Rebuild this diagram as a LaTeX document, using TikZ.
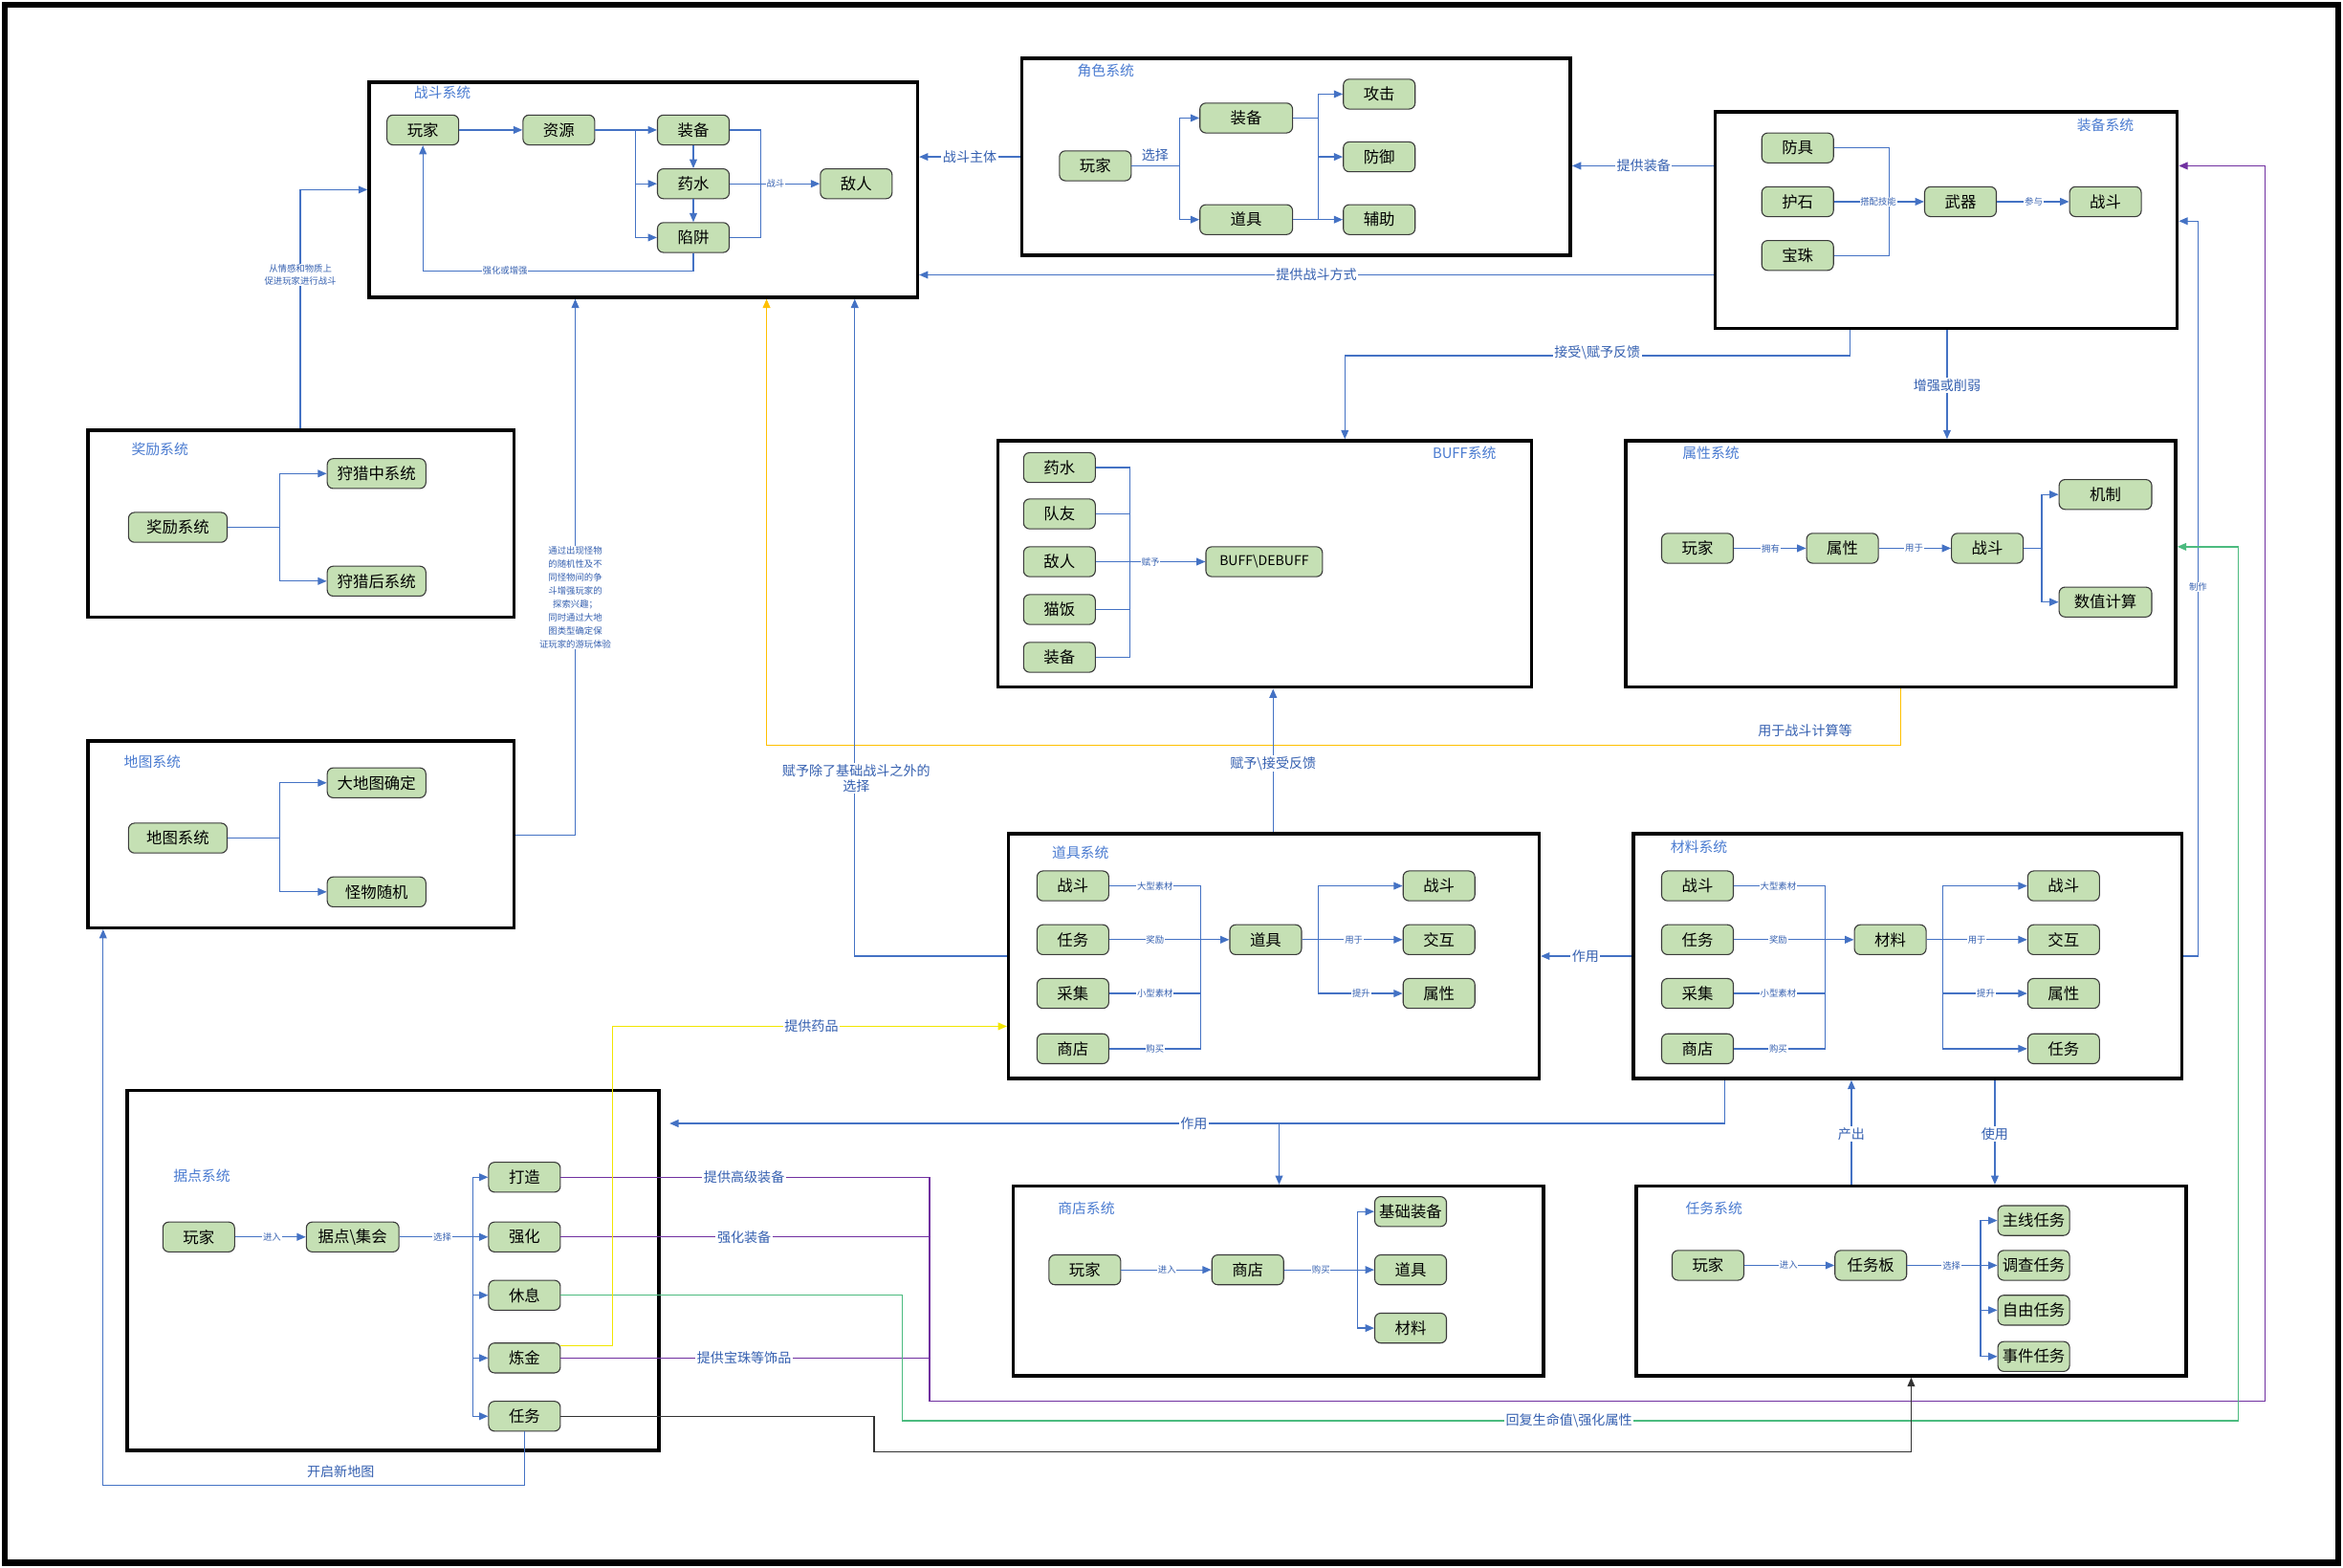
\documentclass[tikz,border=0pt]{standalone}
\usepackage{fontspec}
\setmainfont{Noto Sans CJK SC}
\usetikzlibrary{arrows.meta,fit,calc}
\definecolor{lblue}{HTML}{4472C4}
\definecolor{labc}{HTML}{3560B0}
\definecolor{ttlc}{HTML}{4A7BD0}
\definecolor{nodef}{HTML}{C5E0B4}
\definecolor{nodeb}{HTML}{3B3B3B}
\definecolor{purp}{HTML}{7030A0}
\definecolor{grn}{HTML}{4CBB7F}
\definecolor{gold}{HTML}{FFC000}
\definecolor{yel}{HTML}{F2E600}
\definecolor{dk}{HTML}{333333}
\tikzset{
 sysbox/.style={draw=black, line width=2.2pt, inner sep=0pt},
 gn/.style={draw=nodeb, fill=nodef, rounded corners=4pt, minimum width=48pt, minimum height=20pt, inner sep=1pt, line width=0.7pt, font=\fontsize{10.5}{11}\selectfont},
 gw/.style={gn, minimum width=62pt},
 gww/.style={gn, minimum width=66pt},
 ttl/.style={text=ttlc, font=\fontsize{9.5}{10}\selectfont, inner sep=0pt},
 ln/.style={draw=lblue, line width=0.8pt},
 arr/.style={ln, -{Triangle[length=6pt,width=5pt]}},
 lab/.style={fill=white, text=labc, font=\fontsize{9}{10}\selectfont, inner sep=1pt},
 nlab/.style={text=labc, font=\fontsize{9}{10}\selectfont, inner sep=1pt},
 slab/.style={fill=white, text=labc, font=\fontsize{6}{7}\selectfont, inner sep=0.5pt},
 pln/.style={draw=purp, line width=0.8pt},
 parr/.style={pln, -{Triangle[length=6pt,width=5pt]}},
 garr/.style={draw=grn, line width=0.8pt, -{Triangle[length=6pt,width=5pt]}},
 goldarr/.style={draw=gold, line width=0.8pt, -{Triangle[length=6pt,width=5pt]}},
 yarr/.style={draw=yel, line width=0.8pt, -{Triangle[length=6pt,width=5pt]}},
 karr/.style={draw=dk, line width=0.8pt, -{Triangle[length=6pt,width=5pt]}},
}
\begin{document}
\begin{tikzpicture}[x=1pt,y=-1pt]
\useasboundingbox (0,0) rectangle (1568,1049);
\draw[line width=4pt] (3,3) rectangle (1565,1046);

% ===== system boxes =====
\node[sysbox, fit={(247,55) (614,199)}] (fbox) {};
\node[sysbox, fit={(684,39) (1051,171)}] (rbox) {};
\node[sysbox, fit={(1148,75) (1457,220)}] (ebox) {};
\node[sysbox, fit={(59,288) (344,413)}] (wbox) {};
\node[sysbox, fit={(59,496) (344,621)}] (mbox) {};
\node[sysbox, fit={(668,295) (1025,460)}] (bbox) {};
\node[sysbox, fit={(1088,295) (1456,460)}] (abox) {};
\node[sysbox, fit={(675,558) (1030,722)}] (ibox) {};
\node[sysbox, fit={(1093,558) (1460,722)}] (tbox) {};
\node[sysbox, fit={(85,730) (441,971)}] (jbox) {};
\node[sysbox, fit={(678,794) (1033,921)}] (sbox) {};
\node[sysbox, fit={(1095,794) (1463,921)}] (qbox) {};

% ===== 战斗系统 =====
\node[ttl] (ft) at (296,62) {战斗系统};
\node[gn] (f1) at (283,87) {玩家};
\node[gn] (f2) at (374,87) {资源};
\node[gn] (f3) at (464,87) {装备};
\node[gn] (f4) at (464,123) {药水};
\node[gn] (f5) at (464,159) {陷阱};
\node[gn] (f6) at (573,123) {敌人};
\draw[arr] (f1) -- (f2);
\draw[arr] (f2) -- (f3);
\draw[arr] (f2.east) -- ++(27,0) |- (f4.west);
\draw[arr] (f2.east) -- ++(27,0) |- (f5.west);
\draw[arr] (f3) -- (f4);
\draw[arr] (f4) -- (f5);
\draw[ln] (f3.east) -- ++(21,0) |- (f5.east);
\draw[arr] (f4) -- (f6);
\node[slab] (fl1) at (519,123) {战斗};
\draw[arr] (f5.south) -- ++(0,12) -| (f1.south);
\node[slab] (fl2) at (338,181) {强化或增强};

% ===== 角色系统 =====
\node[ttl] (rt) at (740,47) {角色系统};
\node[gn] (r1) at (733,111) {玩家};
\node[gw] (r2) at (834,79) {装备};
\node[gw] (r3) at (834,147) {道具};
\node[gn] (r4) at (923,63) {攻击};
\node[gn] (r5) at (923,105) {防御};
\node[gn] (r6) at (923,147) {辅助};
\draw[ln] (r1.east) -- ++(32,0) coordinate (rb);
\draw[arr] (rb) |- (r2.west);
\draw[arr] (rb) |- (r3.west);
\node[nlab] (rl1) at (773,104) {选择};
\draw[ln] (r2.east) -- ++(17,0) coordinate (rb2);
\draw[arr] (rb2) |- (r4.west);
\draw[arr] (rb2) |- (r5.west);
\draw[ln] (rb2) -- (rb2 |- r6.west);
\draw[arr] (r3) -- (r6);

% ===== 装备系统 =====
\node[ttl] (et) at (1409,84) {装备系统};
\node[gn] (e1) at (1203,99) {防具};
\node[gn] (e2) at (1203,135) {护石};
\node[gn] (e3) at (1203,171) {宝珠};
\node[gn] (e4) at (1312,135) {武器};
\node[gn] (e5) at (1409,135) {战斗};
\draw[ln] (e1.east) -- ++(37,0) |- (e3.east);
\draw[arr] (e2) -- (e4);
\node[slab] (el1) at (1257,135) {搭配技能};
\draw[arr] (e4) -- (e5);
\node[slab] (el2) at (1361,135) {参与};

% ===== 奖励系统 =====
\node[ttl] (wt) at (107,301) {奖励系统};
\node[gww] (w1) at (119,353) {奖励系统};
\node[gww] (w2) at (252,317) {狩猎中系统};
\node[gww] (w3) at (252,389) {狩猎后系统};
\draw[ln] (w1.east) -- ++(35,0) coordinate (wb);
\draw[arr] (wb) |- (w2.west);
\draw[arr] (wb) |- (w3.west);

% ===== 地图系统 =====
\node[ttl] (mt) at (102,510) {地图系统};
\node[gww] (m1) at (119,561) {地图系统};
\node[gww] (m2) at (252,524) {大地图确定};
\node[gww] (m3) at (252,597) {怪物随机};
\draw[ln] (m1.east) -- ++(35,0) coordinate (mb);
\draw[arr] (mb) |- (m2.west);
\draw[arr] (mb) |- (m3.west);

% ===== BUFF系统 =====
\node[ttl] (bt) at (980,303) {BUFF系统};
\node[gn] (b1) at (709,313) {药水};
\node[gn] (b2) at (709,344) {队友};
\node[gn] (b3) at (709,376) {敌人};
\node[gn] (b4) at (709,408) {猫饭};
\node[gn] (b5) at (709,440) {装备};
\node[gn, minimum width=78pt, font=\fontsize{9}{10}\selectfont] (b6) at (846,376) {BUFF\textbackslash DEBUFF};
\draw[ln] (b1.east) -- ++(23,0) |- (b5.east);
\draw[ln] (b2.east) -- ++(23,0);
\draw[ln] (b4.east) -- ++(23,0);
\draw[arr] (b3) -- (b6);
\node[slab] (bl1) at (770,376) {赋予};

% ===== 属性系统 =====
\node[ttl] (at) at (1145,303) {属性系统};
\node[gn] (a1) at (1136,367) {玩家};
\node[gn] (a2) at (1233,367) {属性};
\node[gn] (a3) at (1330,367) {战斗};
\node[gw] (a4) at (1409,331) {机制};
\node[gw] (a5) at (1409,403) {数值计算};
\draw[arr] (a1) -- (a2);
\node[slab] (al1) at (1185,367) {拥有};
\draw[arr] (a2) -- (a3);
\node[slab] (al2) at (1281,367) {用于};
\draw[ln] (a3.east) -- ++(12,0) coordinate (ab);
\draw[arr] (ab) |- (a4.west);
\draw[arr] (ab) |- (a5.west);

% ===== 道具系统 =====
\node[ttl] (it) at (723,571) {道具系统};
\node[gn] (i1) at (718,593) {战斗};
\node[gn] (i2) at (718,629) {任务};
\node[gn] (i3) at (718,665) {采集};
\node[gn] (i4) at (718,702) {商店};
\node[gn] (i5) at (847,629) {道具};
\node[gn] (i6) at (963,593) {战斗};
\node[gn] (i7) at (963,629) {交互};
\node[gn] (i8) at (963,665) {属性};
\draw[ln] (i1.east) -- ++(61,0) |- (i4.east);
\draw[ln] (i3.east) -- ++(61,0);
\draw[arr] (i2) -- (i5);
\node[slab] (il1) at (773,593) {大型素材};
\node[slab] (il2) at (773,629) {奖励};
\node[slab] (il3) at (773,665) {小型素材};
\node[slab] (il4) at (773,702) {购买};
\draw[ln] (i5.east) -- ++(11,0) coordinate (ib);
\draw[arr] (ib) |- (i6.west);
\draw[arr] (ib) |- (i8.west);
\draw[arr] (i5) -- (i7);
\node[slab] (il5) at (906,629) {用于};
\node[slab] (il6) at (911,665) {提升};

% ===== 材料系统 =====
\node[ttl] (tt) at (1137,567) {材料系统};
\node[gn] (t1) at (1136,593) {战斗};
\node[gn] (t2) at (1136,629) {任务};
\node[gn] (t3) at (1136,665) {采集};
\node[gn] (t4) at (1136,702) {商店};
\node[gn] (t5) at (1265,629) {材料};
\node[gn] (t6) at (1381,593) {战斗};
\node[gn] (t7) at (1381,629) {交互};
\node[gn] (t8) at (1381,665) {属性};
\node[gn] (t9) at (1381,702) {任务};
\draw[ln] (t1.east) -- ++(61,0) |- (t4.east);
\draw[ln] (t3.east) -- ++(61,0);
\draw[arr] (t2) -- (t5);
\node[slab] (tl1) at (1190,593) {大型素材};
\node[slab] (tl2) at (1190,629) {奖励};
\node[slab] (tl3) at (1190,665) {小型素材};
\node[slab] (tl4) at (1190,702) {购买};
\draw[ln] (t5.east) -- ++(11,0) coordinate (tb);
\draw[arr] (tb) |- (t6.west);
\draw[arr] (tb) |- (t8.west);
\draw[arr] (tb) |- (t9.west);
\draw[arr] (t5) -- (t7);
\node[slab] (tl5) at (1323,629) {用于};
\node[slab] (tl6) at (1329,665) {提升};

% ===== 据点系统 =====
\node[ttl] (jt) at (135,787) {据点系统};
\node[gn] (j1) at (133,828) {玩家};
\node[gw] (j2) at (236,828) {据点\textbackslash 集会};
\node[gn] (j3) at (351,788) {打造};
\node[gn] (j4) at (351,828) {强化};
\node[gn] (j5) at (351,867) {休息};
\node[gn] (j6) at (351,909) {炼金};
\node[gn] (j7) at (351,948) {任务};
\draw[arr] (j1) -- (j2);
\node[slab] (jl1) at (182,828) {进入};
\draw[ln] (j2.east) -- ++(49,0) coordinate (jb);
\draw[arr] (jb) |- (j3.west);
\draw[arr] (jb) |- (j5.west);
\draw[arr] (jb) |- (j6.west);
\draw[arr] (jb) |- (j7.west);
\draw[arr] (j2) -- (j4);
\node[slab] (jl2) at (296,828) {选择};

% ===== 商店系统 =====
\node[ttl] (st) at (727,809) {商店系统};
\node[gn] (s1) at (726,850) {玩家};
\node[gn] (s2) at (835,850) {商店};
\node[gn] (s3) at (944,811) {基础装备};
\node[gn] (s4) at (944,850) {道具};
\node[gn] (s5) at (944,889) {材料};
\draw[arr] (s1) -- (s2);
\node[slab] (sl1) at (781,850) {进入};
\draw[ln] (s2.east) -- ++(49,0) coordinate (sb);
\draw[arr] (sb) |- (s3.west);
\draw[arr] (sb) |- (s5.west);
\draw[arr] (s2) -- (s4);
\node[slab] (sl2) at (884,850) {购买};

% ===== 任务系统 =====
\node[ttl] (qt) at (1147,809) {任务系统};
\node[gn] (q1) at (1143,847) {玩家};
\node[gn] (q2) at (1252,847) {任务板};
\node[gn] (q3) at (1361,817) {主线任务};
\node[gn] (q4) at (1361,847) {调查任务};
\node[gn] (q5) at (1361,877) {自由任务};
\node[gn] (q6) at (1361,908) {事件任务};
\draw[arr] (q1) -- (q2);
\node[slab] (ql1) at (1197,847) {进入};
\draw[ln] (q2.east) -- ++(49,0) coordinate (qb);
\draw[arr] (qb) |- (q3.west);
\draw[arr] (qb) |- (q5.west);
\draw[arr] (qb) |- (q6.west);
\draw[arr] (q2) -- (q4);
\node[slab] (ql2) at (1306,847) {选择};

% ===== inter-system connectors =====
\draw[arr] (rbox.west |- 0,105) -- (fbox.east |- 0,105);
\node[lab] (c1) at (649,105) {战斗主体};
\draw[arr] (ebox.west |- 0,111) -- (rbox.east |- 0,111);
\node[lab] (c2) at (1100,111) {提供装备};
\draw[arr] (ebox.west |- 0,184) -- (fbox.east |- 0,184);
\node[lab] (c3) at (881,184) {提供战斗方式};
\draw[arr] (ebox.south -| 1238,0) -- ++(0,17) -| (bbox.north -| 900,0);
\node[lab] (c4) at (1069,236) {接受\textbackslash 赋予反馈};
\draw[arr] (ebox.south -| 1303,0) -- (abox.north -| 1303,0);
\node[lab] (c5) at (1303,258) {增强或削弱};

\draw[arr] (wbox.north -| 201,0) |- (fbox.west |- 0,127);
\node[fill=white, text=labc, font=\fontsize{6}{8}\selectfont, inner sep=0.5pt, align=center] (c6) at (201,184) {从情感和物质上\\促进玩家进行战斗};

\draw[arr] (mbox.east |- 0,559) -| (fbox.south -| 385,0);
\node[fill=white, text=labc, font=\fontsize{6}{9}\selectfont, inner sep=0.5pt, align=center] (c7) at (385,400) {通过出现怪物\\的随机性及不\\同怪物间的争\\斗增强玩家的\\探索兴趣；\\同时通过大地\\图类型确定保\\证玩家的游玩体验};

\draw[goldarr] (abox.south -| 1272,0) -- ++(0,38) -| (fbox.south -| 513,0);
\node[nlab] (c8) at (1208,489) {用于战斗计算等};

\draw[arr] (ibox.west |- 0,640) -| (fbox.south -| 572,0);
\node[lab, align=center] (c9) at (573,521) {赋予除了基础战斗之外的\\选择};

\draw[arr] (ibox.north -| 852,0) -- (bbox.south -| 852,0);
\node[lab] (c10) at (852,511) {赋予\textbackslash 接受反馈};

\draw[arr] (tbox.west |- 0,640) -- (ibox.east |- 0,640);
\node[lab] (c11) at (1061,640) {作用};

\draw[arr] (tbox.east |- 0,640) -- ++(10,0) |- (ebox.east |- 0,148);
\node[slab] (c12) at (1471,393) {制作};

\coordinate (sj) at (856,752);
\draw[arr] (tbox.south -| 1154,0) |- ([xshift=6pt]jbox.east |- sj);
\draw[arr] (sj) -- (sbox.north -| sj);
\node[lab] (c13) at (799,752) {作用};

\draw[arr] (qbox.north -| 1239,0) -- (tbox.south -| 1239,0);
\node[lab] (c14) at (1239,759) {产出};
\draw[arr] (tbox.south -| 1335,0) -- (qbox.north -| 1335,0);
\node[lab] (c15) at (1335,759) {使用};

% purple
\coordinate (pj) at (622,938);
\draw[pln] (j3.east) -| (pj);
\draw[pln] (j4.east) -- (j4.east -| pj);
\draw[pln] (j6.east) -- (j6.east -| pj);
\draw[parr] (pj) -- ++(894,0) |- (ebox.east |- 0,111);
\node[lab] (c16) at (498,788) {提供高级装备};
\node[lab] (c17) at (498,828) {强化装备};
\node[lab] (c18) at (498,909) {提供宝珠等饰品};

% green
\coordinate (g1) at (604,951);
\coordinate (g2) at (1498,951);
\draw[garr] (j5.east) -| (g1) -- (g2) |- (abox.east |- 0,366);
\node[lab] (c19) at (1050,951) {回复生命值\textbackslash 强化属性};

% yellow
\coordinate (y1) at (410,901);
\draw[yarr] (j6.east |- y1) -- (y1) |- (ibox.west |- 0,687);
\node[lab] (c20) at (543,687) {提供药品};

% black
\coordinate (k1) at (585,972);
\draw[karr] (j7.east) -| (k1) -| (qbox.south -| 1279,0);

% new map
\coordinate (n1) at (69,994);
\draw[arr] (j7.south) |- (n1) -- (mbox.south -| n1);
\node[nlab] (c21) at (228,985) {开启新地图};
\end{tikzpicture}
\end{document}
